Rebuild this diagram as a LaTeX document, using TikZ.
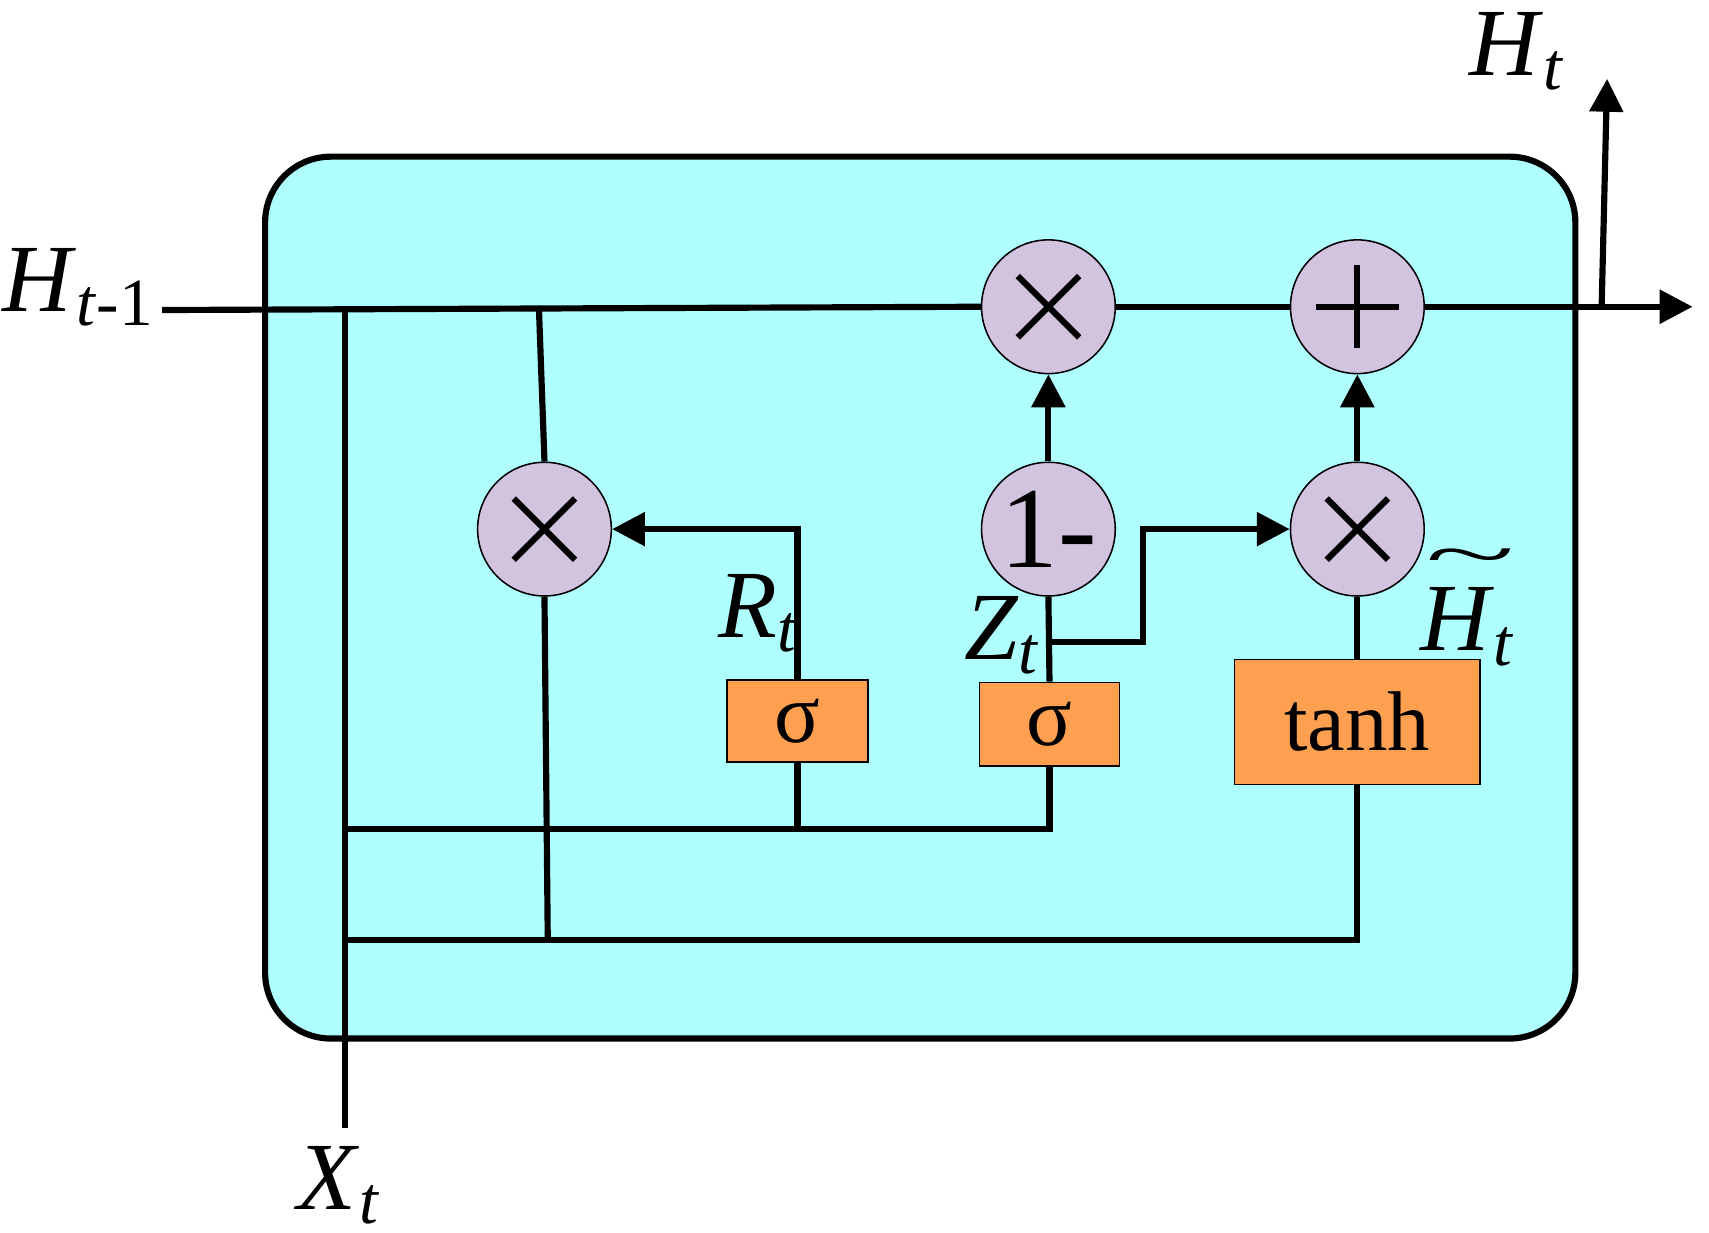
\documentclass[tikz,border=0pt]{standalone}
\usepackage{fontspec}
\setmainfont{Liberation Serif}
\usetikzlibrary{arrows.meta}
\definecolor{cellcyan}{HTML}{B0FFFF}
\definecolor{opviolet}{HTML}{D2C3DF}
\definecolor{gateorange}{HTML}{FFA050}
\tikzset{
  op/.style={circle,draw,fill=opviolet,minimum size=1.22cm,inner sep=0pt},
  gate/.style={draw,fill=gateorange,inner sep=0pt},
  wire/.style={line width=1.6pt},
  arr/.style={wire,-{Triangle[length=0.3cm,width=0.3cm]}},
  lbl/.style={font=\fontsize{25}{25}\selectfont,inner sep=0pt}
}
\begin{document}
\begin{tikzpicture}[x=0.01cm,y=-0.01cm]
            \useasboundingbox (0,0) rectangle (1560,1125);
            % cell background
            \draw[line width=1.6pt,fill=cellcyan,rounded corners=0.6cm] (242,143) rectangle (1438,948);
            
            % operators
            \node[op] (M1) at (957,280) {};
            \node[op] (P) at (1239,280) {};
            \node[op] (ML) at (497,483) {};
            \node[op] (OM) at (957,483) {\fontsize{30}{30}\selectfont 1-};
            \node[op] (MR) at (1239,483) {};
            \foreach \n in {M1,ML,MR}{
              \draw[wire] ([shift={(-28,-28)}]\n.center) -- ([shift={(28,28)}]\n.center);
              \draw[wire] ([shift={(-28,28)}]\n.center) -- ([shift={(28,-28)}]\n.center);
            }
            \draw[wire] ([shift={(-38,0)}]P.center) -- ([shift={(38,0)}]P.center);
            \draw[wire] ([shift={(0,-38)}]P.center) -- ([shift={(0,38)}]P.center);
            
            % gates
            \node[gate,minimum width=1.29cm,minimum height=0.75cm] (SR) at (728,658) {\fontsize{22}{22}\selectfont σ};
            \node[gate,minimum width=1.28cm,minimum height=0.76cm] (SZ) at (958,661) {\fontsize{22}{22}\selectfont σ};
            \node[gate,minimum width=2.24cm,minimum height=1.14cm] (TH) at (1239,659) {\fontsize{22}{22}\selectfont tanh};
            
            % helper points
            \coordinate (hin) at (148,283);
            \coordinate (xin) at (315,1030);
            \coordinate (hx) at (315,283);
            \coordinate (hb) at (492,283);
            \coordinate (out) at (1545,280);
            \coordinate (hup) at (1462,280);
            \coordinate (htop) at (1467,72);
            \coordinate (za) at (958,586);
            \coordinate (zb) at (1043,586);
            \coordinate (zc) at (1043,483);
            
            % wires
            \draw[wire] (hin) -- (M1.west);
            \draw[wire] (M1.east) -- (P.west);
            \draw[arr] (P.east) -- (out);
            \draw[arr] (hup) -- (htop);
            \draw[wire] (xin) -- (hx);
            \draw[wire] (hb) -- (ML.north);
            \draw[wire] (ML.south) -- (500,858);
            \draw[wire] (315,757) -| (SZ.south);
            \draw[wire] (SR.south) -- (728,757);
            \draw[wire] (315,858) -| (TH.south);
            \draw[arr] (SR.north) |- (ML.east);
            \draw[wire] (SZ.north) -- (OM.south);
            \draw[arr] (za) -- (zb) -- (zc) -- (MR.west);
            \draw[arr] (OM.north) -- (M1.south);
            \draw[wire] (TH.north) -- (MR.south);
            \draw[arr] (MR.north) -- (P.south);
            
            % labels
            \node[lbl] (lhin) at (72,262) {\textit{H}\textsubscript{\textit{t}-1}};
            \node[lbl] (lhout) at (1385,47) {\textit{H}\textsubscript{\textit{t}}};
            \node[lbl] (lx) at (310,1082) {\textit{X}\textsubscript{\textit{t}}};
            \node[lbl] (lr) at (693,560) {\textit{R}\textsubscript{\textit{t}}};
            \node[lbl] (lz) at (915,580) {\textit{Z}\textsubscript{\textit{t}}};
            \node[lbl] (lh) at (1340,572) {\textit{H}\textsubscript{\textit{t}}};
            \node[font=\fontsize{18}{18}\selectfont,inner sep=0pt,xscale=2.4] (lht) at (1342,514) {\textasciitilde};
\end{tikzpicture}
\end{document}
